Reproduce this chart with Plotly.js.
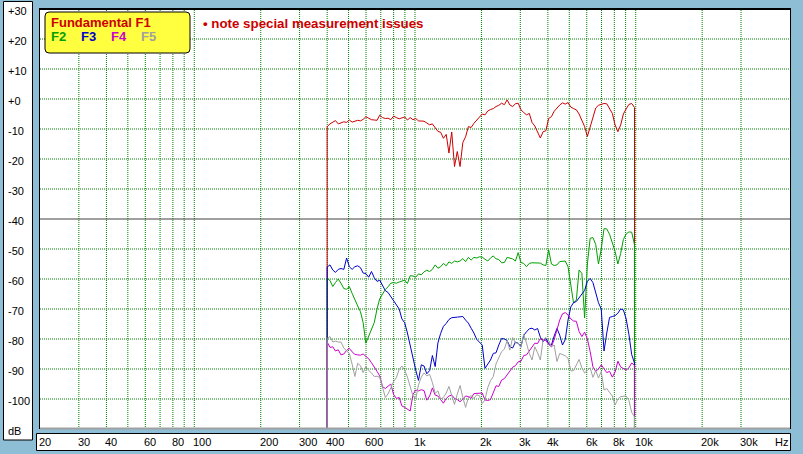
<!DOCTYPE html>
<html><head><meta charset="utf-8">
<script src="https://cdn.plot.ly/plotly-3.0.1.min.js"></script>
<style>html,body{margin:0;padding:0;background:#8ebed6;}#chart{width:803px;height:454px;}</style>
</head><body><div id="chart"></div>
<script>
// frequency points (Hz)
const freq = [400,412,424,436,449,462,476,490,504,519,534,550,566,582,599,617,635,654,673,692,713,734,755,777,
800,823,848,872,898,924,951,979,1008,1037,1068,1099,1131,1165,1199,1234,1270,1307,1345,1385,1425,1467,1510,1554,
1600,1647,1695,1745,1796,1849,1903,1959,2016,2075,2136,2198,2263,2329,2397,2468,2540,2614,2691,2770,2851,2934,3021,3109,
3200,3294,3390,3490,3592,3697,3806,3917,4032,4150,4271,4397,4525,4658,4795,4935,5080,5228,5382,5539,5701,5868,6040,6217,
6400,6588,6780,6979,7184,7394,7611,7834,8063,8300,8543,8793,9051,9316,9589,9870];

const f1 = [-9.2,-8.3,-7.8,-7.2,-8.3,-7.9,-7.6,-7.8,-7.0,-7.7,
-7.4,-7.1,-7.3,-6.8,-5.9,-6.3,-6.9,-7.0,-7.1,-5.4,
-6.2,-6.5,-6.4,-6.9,-5.7,-6.2,-6.6,-6.3,-6.0,-7.0,
-6.2,-6.9,-6.5,-7.3,-7.4,-7.4,-8.0,-8.6,-8.3,-9.6,
-10.8,-11.1,-13.1,-11.8,-18.0,-11.0,-22.5,-17.5,-22.5,-14.5,
-12.6,-9.2,-9.5,-8.1,-7.0,-5.8,-5.0,-5.3,-4.0,-3.5,
-3.2,-2.5,-2.1,-1.4,-1.9,-0.3,-2.0,-2.5,-1.6,-1.4,
-3.6,-4.5,-5.3,-4.8,-7.8,-9.0,-11.0,-13.0,-10.9,-10.6,
-6.5,-5.9,-4.1,-3.0,-2.0,-1.3,-1.7,-1.2,-2.7,-3.2,
-3.6,-5.0,-7.2,-9.2,-12.5,-9.2,-5.5,-3.0,-2.1,-1.8,
-1.5,-1.6,-3.0,-4.8,-8.6,-10.9,-8.7,-5.0,-3.3,-1.8,
-1.5,-2.8];

const f2 = [-59.8,-60.5,-62.5,-61.2,-60.0,-61.4,-63.2,-63.4,-62.5,-64.8,
-67.2,-69.0,-70.9,-74.5,-81.4,-79.0,-77.0,-74.5,-70.0,-66.6,
-65.0,-63.5,-62.6,-61.4,-61.2,-61.4,-61.0,-60.8,-60.4,-61.5,
-58.9,-59.0,-59.4,-58.3,-58.6,-57.6,-57.1,-57.5,-56.8,-55.3,
-56.4,-55.9,-54.8,-55.6,-54.3,-54.8,-54.0,-54.3,-54.0,-53.2,
-54.2,-52.8,-53.7,-52.8,-53.0,-52.6,-52.7,-53.4,-54.0,-53.0,
-52.3,-53.3,-53.5,-54.6,-54.5,-52.8,-53.1,-53.3,-54.0,-51.2,
-54.5,-54.8,-55.9,-54.8,-54.6,-54.6,-54.5,-54.7,-55.3,-55.5,
-50.3,-55.0,-55.5,-55.3,-54.2,-54.2,-54.0,-55.9,-62.5,-68.0,
-67.0,-57.0,-58.1,-73.0,-55.0,-46.4,-46.2,-48.5,-55.0,-50.0,
-43.2,-43.3,-45.1,-48.0,-50.8,-55.0,-51.5,-46.8,-45.0,-44.3,
-44.4,-48.5];

const f3 = [-56.0,-55.3,-57.0,-57.8,-56.8,-56.5,-56.8,-53.0,-55.9,-56.8,
-55.9,-55.6,-56.2,-58.0,-58.2,-59.4,-57.5,-59.6,-60.8,-60.4,
-62.3,-63.9,-64.5,-65.9,-67.2,-68.7,-70.0,-73.3,-74.6,-78.0,
-82.3,-85.9,-90.4,-93.8,-88.6,-89.0,-91.6,-90.5,-85.5,-89.2,
-81.3,-78.1,-75.8,-74.8,-73.5,-72.9,-72.7,-72.7,-72.6,-72.5,
-73.7,-74.7,-76.4,-78.0,-80.1,-81.0,-82.0,-89.8,-88.5,-87.0,
-84.8,-84.6,-82.0,-79.8,-80.0,-80.5,-82.6,-83.0,-81.0,-81.4,
-82.5,-78.8,-77.6,-76.6,-76.4,-77.0,-76.5,-79.4,-80.9,-79.8,
-81.6,-82.0,-79.0,-76.5,-78.7,-82.0,-80.2,-73.7,-69.3,-67.9,
-67.5,-66.2,-65.1,-63.8,-60.8,-59.8,-61.2,-65.0,-67.9,-70.0,
-84.0,-78.0,-72.8,-72.5,-72.2,-71.4,-70.0,-70.3,-73.3,-78.5,
-85.2,-88.0];

const f4 = [-81.0,-82.8,-82.6,-84.0,-83.6,-85.3,-85.0,-83.8,-83.1,-84.3,
-85.1,-85.3,-85.4,-85.0,-85.9,-86.6,-87.9,-89.2,-90.8,-92.3,
-95.9,-96.5,-95.6,-95.0,-98.5,-99.8,-99.5,-102.3,-102.8,-103.5,
-104.0,-98.5,-97.0,-97.3,-96.9,-97.2,-100.4,-99.0,-96.3,-98.7,
-99.0,-100.2,-101.4,-99.8,-99.0,-98.7,-99.8,-100.2,-100.9,-100.0,
-99.0,-99.2,-99.8,-98.2,-98.1,-98.0,-98.0,-100.3,-100.5,-100.2,
-98.1,-95.6,-95.8,-93.7,-93.2,-92.0,-90.9,-89.4,-88.9,-87.6,
-87.4,-85.5,-85.3,-84.0,-82.8,-81.4,-81.5,-79.8,-80.3,-80.5,
-81.8,-82.6,-80.2,-77.2,-73.7,-71.6,-71.2,-72.0,-73.3,-74.0,
-74.1,-77.5,-79.2,-77.7,-80.0,-84.2,-89.3,-90.8,-90.0,-88.6,
-90.0,-91.2,-90.8,-92.7,-91.0,-87.4,-89.3,-89.9,-90.4,-89.6,
-88.0,-88.7];

const f5 = [-79.8,-79.2,-81.0,-80.7,-81.0,-81.0,-83.0,-84.0,-84.8,-88.4,
-92.5,-88.1,-88.9,-91.2,-89.2,-90.5,-91.3,-92.5,-92.4,-92.8,
-96.1,-99.5,-98.3,-96.0,-94.2,-92.9,-90.1,-89.0,-90.4,-92.7,
-96.0,-99.0,-100.0,-95.3,-92.7,-91.3,-92.3,-91.8,-94.5,-98.1,
-97.3,-100.0,-99.5,-98.0,-95.8,-99.0,-101.8,-98.4,-95.5,-99.5,
-102.8,-99.5,-98.9,-99.8,-98.6,-98.9,-101.5,-100.3,-96.2,-93.9,
-92.5,-88.3,-86.5,-84.2,-83.4,-80.5,-83.7,-79.5,-81.3,-81.4,
-82.8,-78.3,-81.4,-84.8,-87.0,-82.6,-84.6,-87.0,-80.3,-79.5,
-80.5,-82.6,-82.0,-87.5,-84.8,-85.2,-85.6,-86.4,-90.6,-90.6,
-88.5,-86.8,-89.6,-91.3,-90.5,-89.6,-92.8,-90.5,-93.0,-90.8,
-97.0,-96.5,-97.8,-99.0,-102.0,-100.0,-99.2,-99.0,-99.0,-100.5,
-104.5,-105.9];

const seriesNames = ['Fundamental F1','F2','F3','F4','F5'];
const seriesColors = ['#cc0000','#00a000','#0000cc','#cc00cc','#a0a0a0'];
const seriesData = [f1,f2,f3,f4,f5];
const offScale = -130; // measurement starts/ends off the bottom of the scale

const xGrid = [30,40,50,60,70,80,90,100,200,300,400,500,600,700,800,900,1000,
2000,3000,4000,5000,6000,7000,8000,9000,10000,20000,30000];
const xTickVals = [20,30,40,60,80,100,200,300,400,600,1000,2000,3000,4000,6000,8000,10000,20000,30000];
const xTickText = ['20','30','40','60','80','100','200','300','400','600','1k','2k','3k','4k','6k','8k','10k','20k','30k'];
const yGrid = [20,10,0,-10,-20,-30,-50,-60,-70,-80,-90,-100];
const yRef = -40;
const yTickVals = [30,20,10,0,-10,-20,-30,-40,-50,-60,-70,-80,-90,-100,-110];
const yTickText = ['+30','+20','+10','+0','-10','-20','-30','-40','-50','-60','-70','-80','-90','-100','dB'];

const W=803,H=454,ML=40,MR=13,MT=9,MB=25;
const PW=W-ML-MR, PH=H-MT-MB;
const px=x=>(x-ML)/PW;          // pixel -> paper x
const py=y=>(H-MB-y)/PH;        // pixel -> paper y

const traces = seriesData.map((d,k)=>({
  type:'scatter', mode:'lines', name:seriesNames[k],
  x:[freq[0]].concat(freq,[freq[freq.length-1]]),
  y:[offScale].concat(d,[offScale]),
  line:{color:seriesColors[k], width:1}, hoverinfo:'skip'
}));

const font = 'Liberation Sans, Arial, sans-serif';
const ann = [];
yTickVals.forEach((v,i)=>ann.push({xref:'paper',x:px(6),xanchor:'left',yref:'y',y:v,yanchor:'middle',yshift:-2,
  text:yTickText[i],showarrow:false,font:{family:font,size:11,color:'#000'}}));
xTickVals.forEach((v,i)=>ann.push({xref:'x',x:Math.log10(v),xanchor:'left',xshift:-3,yref:'paper',y:py(442),yanchor:'middle',
  text:xTickText[i],showarrow:false,font:{family:font,size:11,color:'#000'}}));
ann.push({xref:'paper',x:px(773),xanchor:'left',yref:'paper',y:py(442),yanchor:'middle',text:'Hz',showarrow:false,font:{family:font,size:11,color:'#000'}});
// legend box texts
ann.push({xref:'paper',x:px(49),xanchor:'left',yref:'paper',y:py(22),yanchor:'middle',text:'<b>'+seriesNames[0]+'</b>',showarrow:false,font:{family:font,size:13,color:seriesColors[0]}});
[[1,49],[2,79],[3,109],[4,139]].forEach(([k,x])=>ann.push({xref:'paper',x:px(x),xanchor:'left',yref:'paper',y:py(37),yanchor:'middle',
  text:'<b>'+seriesNames[k]+'</b>',showarrow:false,font:{family:font,size:13,color:seriesColors[k]}}));
ann.push({xref:'paper',x:px(201),xanchor:'left',yref:'paper',y:py(24),yanchor:'middle',text:'<b>\u2022 note special measurement issues</b>',showarrow:false,font:{family:font,size:13.3,color:'#cc0000'}});

// rounded legend box
const bx0=px(45),bx1=px(190),byT=py(12),byB=py(53),rx=4/PW,ry=4/PH;
const boxPath=`M${bx0+rx},${byT} L${bx1-rx},${byT} Q${bx1},${byT} ${bx1},${byT-ry} L${bx1},${byB+ry} Q${bx1},${byB} ${bx1-rx},${byB} L${bx0+rx},${byB} Q${bx0},${byB} ${bx0},${byB+ry} L${bx0},${byT-ry} Q${bx0},${byT} ${bx0+rx},${byT} Z`;

const gridLine = {color:'#008000',width:1,dash:'1px,1px'};
const shapes = [
  {type:'rect',xref:'paper',yref:'paper',x0:px(3.5),x1:px(32.5),y0:py(440),y1:py(1.5),fillcolor:'#ffffff',line:{color:'#000',width:1},layer:'below'},
  {type:'rect',xref:'paper',yref:'paper',x0:px(36.5),x1:px(790.5),y0:py(450.5),y1:py(433.5),fillcolor:'#ffffff',line:{color:'#000',width:1},layer:'below'}
];
xGrid.forEach(v=>shapes.push({type:'line',xref:'x',x0:v,x1:v,yref:'paper',y0:0,y1:1,line:gridLine,layer:'below'}));
yGrid.forEach(v=>shapes.push({type:'line',xref:'paper',x0:0,x1:1,yref:'y',y0:v,y1:v,line:gridLine,layer:'below'}));
shapes.push(
  {type:'line',xref:'paper',x0:0,x1:1,yref:'y',y0:yRef,y1:yRef,line:{color:'#404040',width:1},layer:'below'},
  {type:'line',xref:'paper',yref:'paper',x0:px(39),x1:px(791),y0:py(9),y1:py(9),line:{color:'#000',width:2},layer:'above'},
  {type:'line',xref:'paper',yref:'paper',x0:px(39.5),x1:px(39.5),y0:py(429),y1:py(9),line:{color:'#000',width:1},layer:'above'},
  {type:'line',xref:'paper',yref:'paper',x0:px(790.5),x1:px(790.5),y0:py(429),y1:py(9),line:{color:'#000',width:1},layer:'above'},
  {type:'line',xref:'paper',yref:'paper',x0:px(40),x1:px(790),y0:py(428.5),y1:py(428.5),line:{color:'#a0a0a0',width:2},layer:'above'},
  {type:'path',xref:'paper',yref:'paper',path:boxPath,fillcolor:'#ffff40',line:{color:'#000',width:1},layer:'above'}
);

const layout = {
  width:W,height:H,margin:{l:ML,r:MR,t:MT,b:MB,pad:0},
  paper_bgcolor:'#8ebed6',plot_bgcolor:'#ffffff',showlegend:false,
  xaxis:{type:'log',range:[Math.log10(20),Math.log10(50000)],showticklabels:false,ticks:'',
    showgrid:false,zeroline:false,showline:false,fixedrange:true},
  yaxis:{range:[-110,30],showticklabels:false,ticks:'',showgrid:false,zeroline:false,showline:false,fixedrange:true},
  shapes:shapes,annotations:ann
};
Plotly.newPlot('chart',traces,layout,{staticPlot:true,displayModeBar:false});
</script></body></html>
